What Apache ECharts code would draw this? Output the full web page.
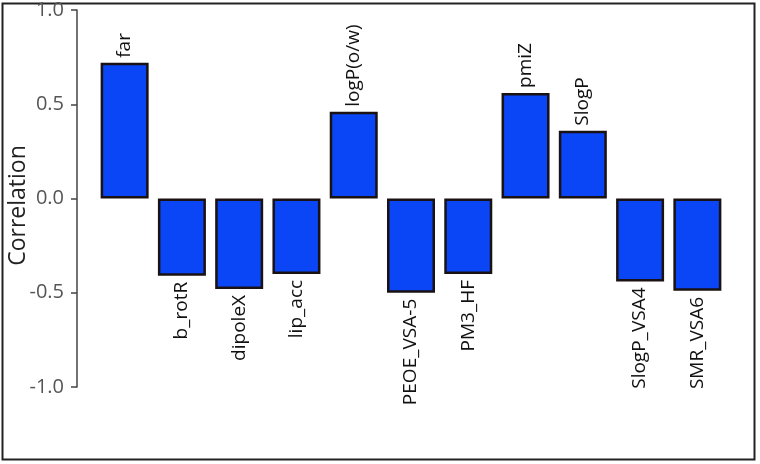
<!DOCTYPE html>
<html><head><meta charset="utf-8">
<script src="https://cdn.jsdelivr.net/npm/echarts@6/dist/echarts.min.js"></script>
<style>html,body{margin:0;padding:0;background:#fff}#c{width:760px;height:464px}</style>
</head><body><div id="c"></div>
<script>
const categories = ['far','b_rotR','dipoleX','lip_acc','logP(o/w)','PEOE_VSA-5','PM3_HF','pmiZ','SlogP','SlogP_VSA4','SMR_VSA6'];
const correlations = [0.72,-0.41,-0.48,-0.40,0.46,-0.50,-0.40,0.56,0.36,-0.44,-0.49];
const yTicks = [-1.0,-0.5,0.0,0.5,1.0];

const chart = echarts.init(document.getElementById('c'));
const data = correlations.map(v => ({
  value: v,
  label: v >= 0
    ? {position: 'top', rotate: 90, align: 'left', verticalAlign: 'middle', distance: 5}
    : {position: 'bottom', rotate: 90, align: 'right', verticalAlign: 'middle', distance: 6}
}));
chart.setOption({
  animation: false,
  backgroundColor: '#fff',
  grid: {left: 96, right: 34, top: 10, bottom: 77, containLabel: false, outerBoundsMode: 'none'},
  graphic: [{type: 'rect', shape: {x: 2.5, y: 3.5, width: 752, height: 456}, style: {fill: 'none', stroke: '#222', lineWidth: 2}, silent: true}],
  xAxis: {
    type: 'category', data: categories,
    axisLine: {show: false}, axisTick: {show: false}, axisLabel: {show: false}
  },
  yAxis: {
    type: 'value', min: yTicks[0], max: yTicks[yTicks.length-1], interval: 0.5,
    offset: 19,
    name: 'Correlation', nameLocation: 'middle', nameGap: 47, nameMoveOverlap: false,
    nameTextStyle: {fontFamily: 'Open Sans', fontSize: 23, color: '#222', padding: [0,0,0,-14]},
    splitLine: {show: false},
    axisLine: {show: true, lineStyle: {color: '#444', width: 1.5}},
    axisTick: {show: true, length: 6, lineStyle: {color: '#444', width: 1.5}},
    axisLabel: {fontFamily: 'Open Sans', fontSize: 20, color: '#555', margin: 13, formatter: v => v.toFixed(1)}
  },
  series: [{
    type: 'bar', data: data, barWidth: 48,
    itemStyle: {color: '#0a46f5', borderColor: '#1a1212', borderWidth: 2.5},
    label: {show: true, formatter: p => categories[p.dataIndex], fontFamily: 'Open Sans', fontSize: 19, color: '#111'}
  }]
});
</script></body></html>
